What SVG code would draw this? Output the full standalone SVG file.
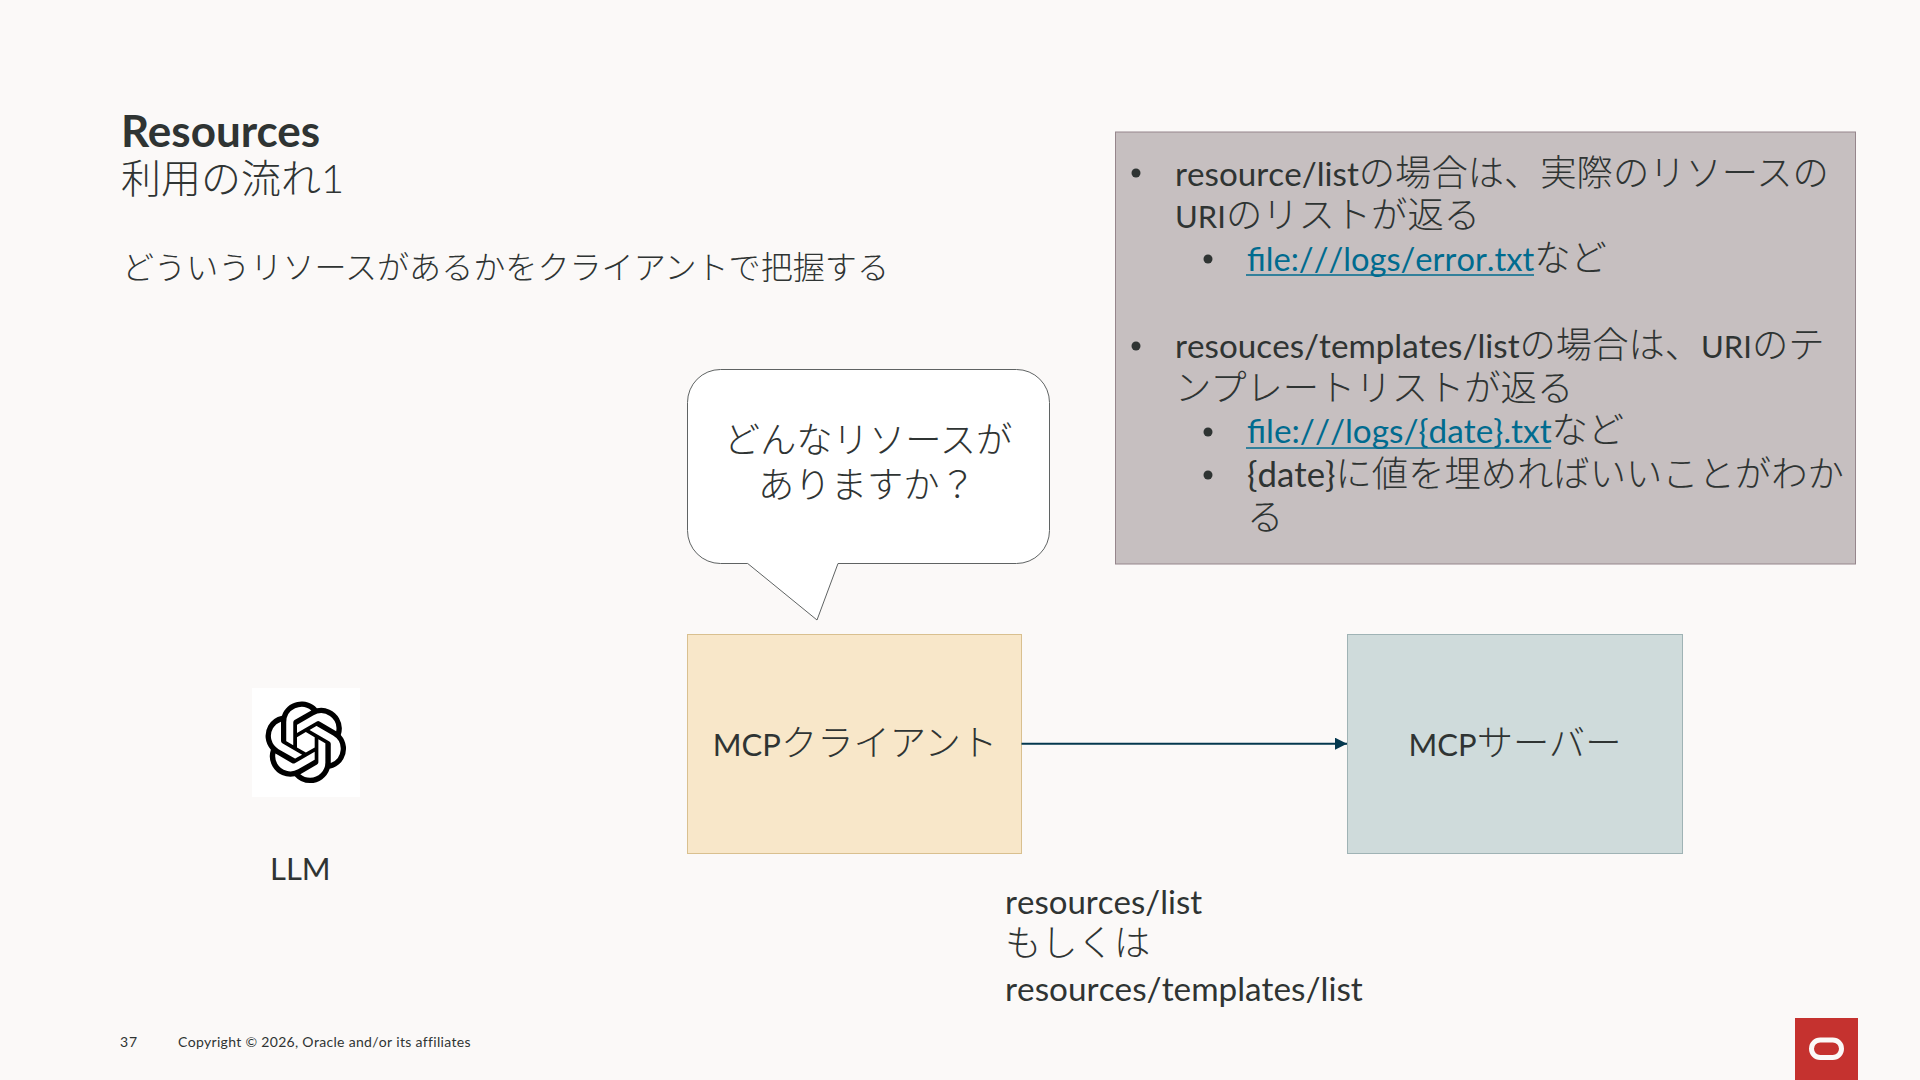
<svg xmlns="http://www.w3.org/2000/svg" width="1920" height="1080" viewBox="0 0 1920 1080">
<style>
text{font-family:"Lato","Noto Sans CJK JP",sans-serif;fill:#2f3433;font-weight:300}
.l{font-family:"Lato","Noto Sans CJK JP",sans-serif;font-weight:400;font-kerning:none}
.b{font-size:36.300px}
.link{fill:#006b8f;font-weight:400;font-kerning:none;font-size:33px}
.s{font-size:33.200px}
.u3{font-size:31px}
.box{stroke-width:1}
.bul{fill:#2f3433}
.u{stroke:#006b8f;stroke-width:1.600;fill:none}
</style>
<defs>
<marker id="tri" markerUnits="userSpaceOnUse" markerWidth="13" markerHeight="12" refX="12" refY="6" orient="auto"><path d="M0 0L12 6L0 12Z" fill="#04384f"/></marker>
</defs>
<rect width="1920" height="1080" fill="#fbf9f8"/>
<g id="title">
<text x="121" y="146.500" font-size="44" style="font-weight:700">Resources</text>
<text x="121" y="193" font-size="40">利用の流れ1</text>
<text x="122" y="279" font-size="32.100">どういうリソースがあるかをクライアントで把握する</text>
</g>
<g id="note">
<rect class="box" x="1115.500" y="132" width="740" height="432" fill="#c6bfc0" stroke="#96868c"/>
<g class="b">
<circle class="bul" cx="1136" cy="173" r="4.500"/>
<text x="1175" y="186"><tspan class="l s">resource/list</tspan>の場合は、実際のリソースの</text>
<text x="1175" y="228"><tspan class="l u3">URI</tspan>のリストが返る</text>
<circle class="bul" cx="1208" cy="259" r="4.500"/>
<text x="1247" y="271"><tspan class="link" style="font-size:32.700px">file:///logs/error.txt</tspan>など</text>
<path class="u" d="M1246 275H1534"/>
<circle class="bul" cx="1136" cy="346" r="4.500"/>
<text x="1175" y="358"><tspan class="l s">resouces/templates/list</tspan>の場合は、<tspan class="l u3">URI</tspan>のテ</text>
<text x="1175" y="401">ンプレートリストが返る</text>
<circle class="bul" cx="1208" cy="432" r="4.500"/>
<text x="1247" y="443"><tspan class="link" style="font-size:33.300px">file:///logs/{date}.txt</tspan>など</text>
<path class="u" d="M1246 448H1551"/>
<circle class="bul" cx="1208" cy="475" r="4.500"/>
<text x="1247" y="487"><tspan class="l" style="font-size:34.800px">{date}</tspan>に値を埋めればいいことがわか</text>
<text x="1247" y="530">る</text>
</g>
</g>
<g id="bubble">
<path d="M720.500 369.500H1016.500A33 33 0 0 1 1049.500 402.500V530.500A33 33 0 0 1 1016.500 563.500H838L817 620L747.700 563.500H720.500A33 33 0 0 1 687.500 530.500V402.500A33 33 0 0 1 720.500 369.500Z" fill="#fff" stroke="#5f6363"/>
<text x="868" y="453" font-size="36.300" text-anchor="middle">どんなリソースが</text>
<text x="867" y="498" font-size="36.300" text-anchor="middle">ありますか？</text>
</g>
<g id="client">
<rect x="687.500" y="634.500" width="334" height="219" fill="#f8e7c9" stroke="#d9c08f"/>
<text x="855" y="756" font-size="36.300" text-anchor="middle"><tspan class="l u3">MCP</tspan>クライアント</text>
</g>
<g id="server">
<rect x="1347.500" y="634.500" width="335" height="219" fill="#cfdbdb" stroke="#9fb3b5"/>
<text x="1515" y="756" font-size="36.300" text-anchor="middle"><tspan class="l u3">MCP</tspan>サーバー</text>
</g>
<g id="connectors">
<path d="M1021.500 743.700H1347" stroke="#04384f" stroke-width="2" fill="none" marker-end="url(#tri)"/>
</g>
<g id="llm">
<rect x="252" y="688" width="108" height="109" fill="#fff"/>
<path transform="translate(265 701.500) scale(3.400)" fill="#000" d="M22.2819 9.8211a5.9847 5.9847 0 0 0-.5157-4.9108 6.0462 6.0462 0 0 0-6.5098-2.9A6.0651 6.0651 0 0 0 4.9807 4.1818a5.9847 5.9847 0 0 0-3.9977 2.9 6.0462 6.0462 0 0 0 .7427 7.0966 5.98 5.98 0 0 0 .511 4.9107 6.051 6.051 0 0 0 6.5146 2.9001A5.9847 5.9847 0 0 0 13.2599 24a6.0557 6.0557 0 0 0 5.7718-4.2058 5.9894 5.9894 0 0 0 3.9977-2.9001 6.0557 6.0557 0 0 0-.7475-7.0729zm-9.022 12.6081a4.4755 4.4755 0 0 1-2.8764-1.0408l.1419-.0804 4.7783-2.7582a.7948.7948 0 0 0 .3927-.6813v-6.7369l2.02 1.1686a.071.071 0 0 1 .038.052v5.5826a4.504 4.504 0 0 1-4.4945 4.4944zm-9.6607-4.1254a4.4708 4.4708 0 0 1-.5346-3.0137l.142.0852 4.783 2.7582a.7712.7712 0 0 0 .7806 0l5.8428-3.3685v2.3324a.0804.0804 0 0 1-.0332.0615L9.74 19.9502a4.4992 4.4992 0 0 1-6.1408-1.6464zM2.3408 7.8956a4.485 4.485 0 0 1 2.3655-1.9728V11.6a.7664.7664 0 0 0 .3879.6765l5.8144 3.3543-2.0201 1.1685a.0757.0757 0 0 1-.071 0l-4.8303-2.7865A4.504 4.504 0 0 1 2.3408 7.872zm16.5963 3.8558L13.1038 8.364 15.1192 7.2a.0757.0757 0 0 1 .071 0l4.8303 2.7913a4.4944 4.4944 0 0 1-.6765 8.1042v-5.6772a.79.79 0 0 0-.407-.667zm2.0107-3.0231l-.142-.0852-4.7735-2.7818a.7759.7759 0 0 0-.7854 0L9.409 9.2297V6.8974a.0662.0662 0 0 1 .0284-.0615l4.8303-2.7866a4.4992 4.4992 0 0 1 6.6802 4.66zM8.3065 12.863l-2.02-1.1638a.0804.0804 0 0 1-.038-.0567V6.0742a4.4992 4.4992 0 0 1 7.3757-3.4537l-.142.0805L8.704 5.459a.7948.7948 0 0 0-.3927.6813zm1.0976-2.3654l2.602-1.4998 2.6069 1.4998v2.9994l-2.5974 1.4997-2.6067-1.4997Z"/>
<text class="l" x="270" y="880" font-size="31">LLM</text>
</g>
<g id="request-label">
<text class="l" x="1005" y="914" font-size="33">resources/list</text>
<text x="1005" y="956" font-size="36.300">もしくは</text>
<text class="l" x="1005" y="1001" font-size="33.300">resources/templates/list</text>
</g>
<g id="footer">
<text class="l" x="120" y="1047" font-size="14" letter-spacing="1">37</text>
<text class="l" x="178" y="1047" font-size="14" letter-spacing="0.300">Copyright © 2026, Oracle and/or its affiliates</text>
<rect x="1795" y="1018" width="63" height="62" fill="#c5322f"/>
<rect x="1811.500" y="1040" width="30" height="17.500" rx="8.700" fill="none" stroke="#fbf9f8" stroke-width="5"/>
</g>
</svg>
